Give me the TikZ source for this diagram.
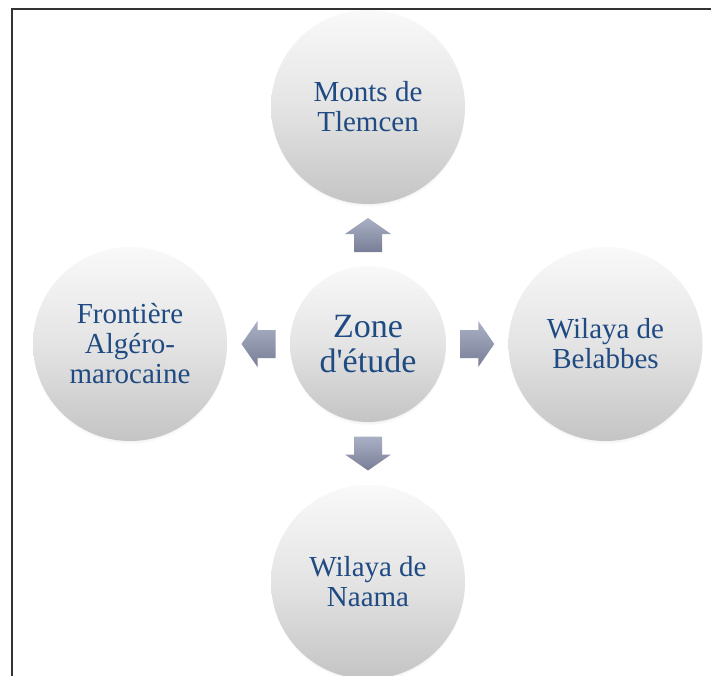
\documentclass[tikz,border=0pt]{standalone}
\usepackage{fontspec}
\setmainfont{Liberation Serif}
\usetikzlibrary{shadows,calc}
\definecolor{txtblue}{HTML}{1F4A82}
\definecolor{ballTop}{HTML}{F9F9F9}
\definecolor{ballBot}{HTML}{C4C4C4}
\definecolor{arrTop}{HTML}{AAB0C4}
\definecolor{arrBot}{HTML}{787E96}
\tikzset{
  ball/.style={circle, minimum size=194pt, inner sep=0pt, align=center,
    top color=ballTop, bottom color=ballBot, middle color=ballTop!60!ballBot,
    text=txtblue, font=\fontsize{29}{30}\selectfont,
    circular drop shadow={shadow xshift=0pt, shadow yshift=-3pt, shadow scale=1.0, opacity=0.35}},
  hub/.style={ball, minimum size=156pt, font=\fontsize{34}{35}\selectfont},
  blockarrow/.style={top color=arrTop, bottom color=arrBot, draw=none},
  frameline/.style={line width=2.2pt, draw=black!80}
}
\begin{document}
\begin{tikzpicture}[x=1pt,y=1pt]
\useasboundingbox (0,0) rectangle (711,-675);
\fill[white] (0,0) rectangle (711,-675);
\draw[frameline] (11.6,-676) -- (11.6,-8.8) -- (712,-8.8);

\node[hub] (c) at (368,-344) {Zone\\d\textquotesingle étude};
\node[ball] (t) at (368,-107) {Monts de\\Tlemcen};
\node[ball] (l) at (130,-344) {Frontière\\Algéro-\\marocaine};
\node[ball] (r) at (605.5,-344) {Wilaya de\\Belabbes};
\node[ball] (b) at (368,-582) {Wilaya de\\Naama};

\coordinate (aU) at ($(c.north)!0.5!(t.south)$);
\coordinate (aD) at ($(c.south)!0.5!(b.north)$);
\coordinate (aL) at ($(c.west)!0.5!(l.east)$);
\coordinate (aR) at ($(c.east)!0.5!(r.west)$);

\begin{scope}[shift={(aU)}]
\shade[blockarrow] (0,17) -- (23,1) -- (14,1) -- (14,-17) -- (-14,-17) -- (-14,1) -- (-23,1) -- cycle;
\end{scope}
\begin{scope}[shift={(aD)}]
\shade[blockarrow] (0,-17) -- (23,-1) -- (14,-1) -- (14,17) -- (-14,17) -- (-14,-1) -- (-23,-1) -- cycle;
\end{scope}
\begin{scope}[shift={(aL)}]
\shade[blockarrow] (-17,0) -- (-1,23) -- (-1,14) -- (17,14) -- (17,-14) -- (-1,-14) -- (-1,-23) -- cycle;
\end{scope}
\begin{scope}[shift={(aR)}]
\shade[blockarrow] (17,0) -- (1,23) -- (1,14) -- (-17,14) -- (-17,-14) -- (1,-14) -- (1,-23) -- cycle;
\end{scope}
\end{tikzpicture}
\end{document}
